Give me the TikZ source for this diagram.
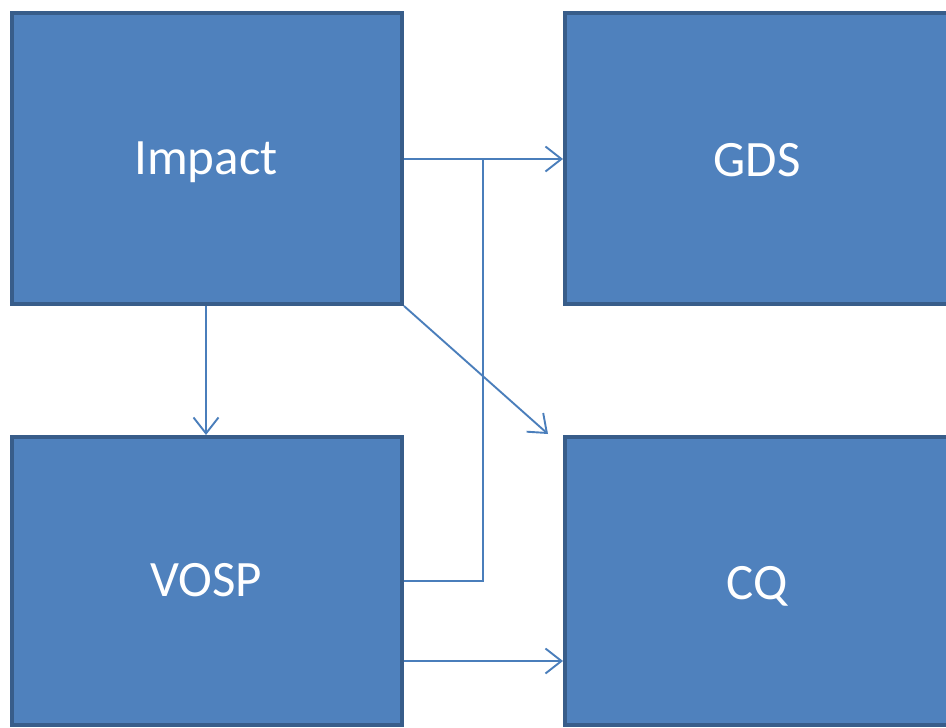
\documentclass[tikz,border=0pt]{standalone}
\usepackage{fontspec}
\setmainfont{Carlito}
\usetikzlibrary{arrows.meta}
\definecolor{boxfill}{HTML}{4F81BD}
\definecolor{boxedge}{HTML}{385D8A}
\definecolor{linkcol}{HTML}{4A7EBB}
\begin{document}
\begin{tikzpicture}[x=1pt,y=-1pt,
  blockbox/.style={draw=boxedge,fill=boxfill,line width=4pt},
  blocklabel/.style={text=white,font=\fontsize{51}{55}\selectfont},
  link/.style={draw=linkcol,line width=1.9pt},
  linkarrow/.style={link,-{Straight Barb[length=16pt,width=25pt,line width=1.9pt]}}]
  \useasboundingbox (0,0) rectangle (946,728);
  \begin{scope}
    \clip (0,0) rectangle (946,728);
    \path[blockbox] (12,13) rectangle (402,304);
    \path[blockbox] (565,13) rectangle (950,304);
    \path[blockbox] (12,437) rectangle (402,725);
    \path[blockbox] (565,437) rectangle (950,725);
  \end{scope}
  \node[blocklabel] (impact) at (206,162) {Impact};
  \node[blocklabel] (gds) at (757,160) {GDS};
  \node[blocklabel] (vosp) at (206,580) {VOSP};
  \node[blocklabel] (cq) at (757,586) {CQ};
  % connector end points on the box edges
  \coordinate (impE) at (404,159);
  \coordinate (impS) at (206,306);
  \coordinate (impSE) at (404,306);
  \coordinate (gdsW) at (563,159);
  \coordinate (vospN) at (206,435);
  \coordinate (vospE1) at (404,581);
  \coordinate (vospE2) at (404,661);
  \coordinate (cqW) at (563,661);
  \coordinate (cqNW) at (548,434);
  \coordinate (join) at (483,159);
  \draw[linkarrow] (impE) -- (gdsW);
  \draw[link] (vospE1) -| (join);
  \draw[linkarrow] (impS) -- (vospN);
  \draw[linkarrow] (impSE) -- (cqNW);
  \draw[linkarrow] (vospE2) -- (cqW);
\end{tikzpicture}
\end{document}
